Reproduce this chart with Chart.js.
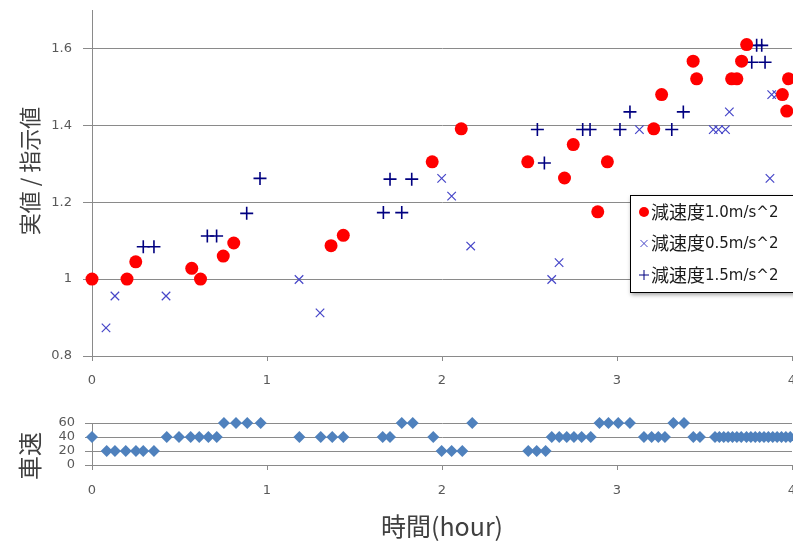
<!DOCTYPE html>
<html>
<head>
<meta charset="utf-8">
<script src="https://cdn.jsdelivr.net/npm/chart.js@4.4.1/dist/chart.umd.min.js"></script>
<style>
  html, body { margin: 0; padding: 0; background: #fff; overflow: hidden; }
  #wrap { position: relative; width: 793px; height: 541px; overflow: hidden; }
  canvas { position: absolute; left: 0; }
  #ratioChart { top: 0; }
  #speedChart { top: 395px; }
</style>
</head>
<body>
<div id="wrap">
  <canvas id="ratioChart" width="793" height="395"></canvas>
  <canvas id="speedChart" width="793" height="146"></canvas>
</div>
<script>
// series labels
const seriesLabels = ["減速度1.0m/s^2", "減速度0.5m/s^2", "減速度1.5m/s^2"];

// 1.0 m/s^2 (red dots)
const hours10 = [0, 0.2, 0.25, 0.57, 0.62, 0.75, 0.81, 1.366, 1.436, 1.944, 2.11, 2.49, 2.70, 2.75, 2.89, 2.945,
  3.21, 3.255, 3.435, 3.455, 3.655, 3.685, 3.712, 3.741, 3.945, 3.97, 3.98];
const ratio10 = [1.0, 1.0, 1.045, 1.028, 1.0, 1.06, 1.094, 1.087, 1.114, 1.305, 1.391, 1.305, 1.263, 1.35, 1.175, 1.305,
  1.391, 1.48, 1.567, 1.521, 1.521, 1.521, 1.567, 1.61, 1.48, 1.437, 1.521];

// 0.5 m/s^2 (x marks)
const hours05 = [0.08, 0.131, 0.423, 1.183, 1.303, 1.998, 2.055, 2.164, 2.627, 2.669, 3.128, 3.55, 3.58, 3.62, 3.642,
  3.874, 3.884, 3.913];
const ratio05 = [0.873, 0.956, 0.956, 0.999, 0.912, 1.262, 1.216, 1.086, 0.999, 1.043, 1.389, 1.389, 1.389, 1.389, 1.435,
  1.262, 1.48, 1.48];

// 1.5 m/s^2 (+ marks)
const hours15 = [0.293, 0.354, 0.659, 0.712, 0.884, 0.96, 1.665, 1.703, 1.77, 1.827, 2.545, 2.585, 2.804, 2.846, 3.017,
  3.074, 3.313, 3.379, 3.77, 3.798, 3.827, 3.846];
const ratio15 = [1.084, 1.084, 1.112, 1.112, 1.171, 1.262, 1.173, 1.26, 1.173, 1.26, 1.389, 1.302, 1.389, 1.389, 1.389,
  1.435, 1.389, 1.435, 1.564, 1.608, 1.608, 1.564];

// vehicle speed (diamonds)
const speedHours = [0, 0.084, 0.131, 0.193, 0.251, 0.293, 0.354, 0.427, 0.497, 0.564, 0.613, 0.665, 0.713,
  0.754, 0.823, 0.887, 0.964, 1.185, 1.307, 1.373, 1.436, 1.661, 1.703, 1.77, 1.833, 1.95, 1.998, 2.055, 2.116,
  2.173, 2.493, 2.541, 2.592, 2.627, 2.67, 2.713, 2.754, 2.798, 2.85, 2.9, 2.951, 3.007, 3.074, 3.154, 3.198,
  3.236, 3.274, 3.322, 3.383, 3.436, 3.474, 3.56, 3.585, 3.61, 3.635, 3.66, 3.685, 3.71, 3.74, 3.765, 3.79,
  3.815, 3.84, 3.865, 3.89, 3.915, 3.94, 3.965, 3.99];
const speeds = [40, 20, 20, 20, 20, 20, 20, 40, 40, 40, 40, 40, 40,
  60, 60, 60, 60, 40, 40, 40, 40, 40, 40, 60, 60, 40, 20, 20, 20,
  60, 20, 20, 20, 40, 40, 40, 40, 40, 40, 60, 60, 60, 60, 40, 40,
  40, 40, 60, 60, 40, 40, 40, 40, 40, 40, 40, 40, 40, 40, 40, 40,
  40, 40, 40, 40, 40, 40, 40, 40];

const hourTicks = [0, 1, 2, 3, 4];

const toPoints = (xs, ys) => xs.map((x, i) => ({ x: x, y: ys[i] }));

Chart.defaults.font.family = '"DejaVu Sans", sans-serif';
Chart.defaults.font.size = 13;
Chart.defaults.color = "#595959";

const gridGray = "#8a8a8a";
const jpFont = '"Noto Sans CJK JP", sans-serif';

//rotated y title
const yTitle = {
  id: "yTitle",
  afterDraw(chart, args, opts) {
    const { ctx } = chart;
    ctx.save();
    ctx.translate(opts.x, opts.y);
    ctx.rotate(-Math.PI / 2);
    ctx.font = opts.size + "px " + jpFont;
    ctx.fillStyle = "#404040";
    ctx.textAlign = "center";
    ctx.textBaseline = "middle";
    ctx.fillText(opts.text, 0, 0);
    ctx.restore();
  },
};

//boxed legend inside the plot
const boxLegend = {
  id: "boxLegend",
  afterDraw(chart, args, opts) {
    const { ctx } = chart;
    const x0 = opts.x, y0 = opts.y;
    ctx.save();
    ctx.shadowColor = "rgba(0,0,0,0.35)";
    ctx.shadowBlur = 4;
    ctx.shadowOffsetX = 1;
    ctx.shadowOffsetY = 2;
    ctx.fillStyle = "#fff";
    ctx.fillRect(x0, y0, 200, 98);
    ctx.shadowColor = "transparent";
    ctx.strokeStyle = "#000";
    ctx.lineWidth = 1;
    ctx.strokeRect(x0 + 0.5, y0 + 0.5, 200, 97);

    chart.data.datasets.forEach((ds, i) => {
      const cy = y0 + 17 + i * 31.5;
      const mx = x0 + 14;
      ctx.fillStyle = ds.pointBackgroundColor;
      ctx.strokeStyle = ds.pointBorderColor;
      Chart.helpers.drawPoint(ctx, {
        pointStyle: ds.pointStyle,
        radius: 5,
        borderWidth: ds.pointBorderWidth,
        rotation: 0,
      }, mx, cy);
      const parts = ds.label.match(/^(\D+)(.*)$/);
      ctx.fillStyle = "#1a1a1a";
      ctx.textBaseline = "middle";
      ctx.font = "18px " + jpFont;
      ctx.fillText(parts[1], mx + 7, cy);
      const w = ctx.measureText(parts[1]).width;
      ctx.font = '15px "DejaVu Sans", sans-serif';
      ctx.fillText(parts[2], mx + 7 + w, cy + 1);
    });
    ctx.restore();
  },
};

function fixY(scale) {
  scale.width = 92;
  scale.paddingTop = 0;
  scale.paddingBottom = 0;
}
function fixX(h) {
  return function (scale) {
    scale.height = h;
    scale.paddingLeft = 0;
    scale.paddingRight = 0;
  };
}

var ratioChart = new Chart(document.getElementById("ratioChart"), {
  type: "scatter",
  data: {
    datasets: [
      {
        label: seriesLabels[0],
        data: toPoints(hours10, ratio10),
        pointStyle: "circle",
        pointRadius: 6.5,
        pointBackgroundColor: "#ff0000",
        pointBorderColor: "#ff0000",
        pointBorderWidth: 0,
        clip: false,
      },
      {
        label: seriesLabels[1],
        data: toPoints(hours05, ratio05),
        pointStyle: "crossRot",
        pointRadius: 6,
        pointBackgroundColor: "#4646c8",
        pointBorderColor: "#4646c8",
        pointBorderWidth: 1.2,
        clip: false,
      },
      {
        label: seriesLabels[2],
        data: toPoints(hours15, ratio15),
        pointStyle: "cross",
        pointRadius: 6.5,
        pointBackgroundColor: "#000080",
        pointBorderColor: "#000080",
        pointBorderWidth: 1.6,
        clip: false,
      },
    ],
  },
  options: {
    responsive: false,
    animation: false,
    layout: { autoPadding: false, padding: { top: 10, right: 1, left: 0, bottom: 0 } },
    plugins: {
      legend: { display: false },
      tooltip: { enabled: false },
      yTitle: { text: "実値 / 指示値", x: 30, y: 171, size: 22 },
      boxLegend: { x: 630, y: 195 },
    },
    scales: {
      x: {
        type: "linear",
        min: 0,
        max: 4,
        afterBuildTicks: (scale) => { scale.ticks = hourTicks.map((v) => ({ value: v })); },
        afterFit: fixX(39),
        ticks: { padding: 12, maxRotation: 0, autoSkip: false },
        grid: { drawOnChartArea: false, tickLength: 5, color: gridGray },
        border: { color: gridGray },
      },
      y: {
        min: 0.8,
        max: 1.7,
        afterBuildTicks: (scale) => {
          scale.ticks = scale.ticks.filter((t) => t.value < 1.65);
        },
        afterFit: fixY,
        ticks: {
          stepSize: 0.2,
          padding: 11,
          autoSkip: false,
          callback: (v) => String(Math.round(v * 10) / 10),
        },
        grid: { color: gridGray, tickLength: 9 },
        border: { color: gridGray },
      },
    },
  },
  plugins: [yTitle, boxLegend],
});

var speedChart = new Chart(document.getElementById("speedChart"), {
  type: "scatter",
  data: {
    datasets: [
      {
        label: "車速",
        data: toPoints(speedHours, speeds),
        pointStyle: "rectRot",
        pointRadius: 6,
        pointBackgroundColor: "#4f81bd",
        pointBorderColor: "#4f81bd",
        pointBorderWidth: 0,
        clip: false,
      },
    ],
  },
  options: {
    responsive: false,
    animation: false,
    layout: { autoPadding: false, padding: { top: 28, right: 1, left: 0, bottom: 0 } },
    plugins: {
      legend: { display: false },
      tooltip: { enabled: false },
      yTitle: { text: "車速", x: 30, y: 61, size: 24 },
    },
    scales: {
      x: {
        type: "linear",
        min: 0,
        max: 4,
        afterBuildTicks: (scale) => { scale.ticks = hourTicks.map((v) => ({ value: v })); },
        afterFit: fixX(76),
        ticks: { padding: 13, maxRotation: 0, autoSkip: false },
        grid: { drawOnChartArea: false, tickLength: 5, color: gridGray },
        border: { color: gridGray },
        title: {
          display: true,
          text: "時間(hour)",
          color: "#404040",
          font: { family: jpFont, size: 25 },
          padding: { top: 0, bottom: 0 },
        },
      },
      y: {
        min: 0,
        max: 60,
        afterFit: fixY,
        ticks: { stepSize: 20, padding: 10, autoSkip: false },
        grid: { color: gridGray, tickLength: 7 },
        border: { color: gridGray },
      },
    },
  },
  plugins: [yTitle],
});
</script>
</body>
</html>
